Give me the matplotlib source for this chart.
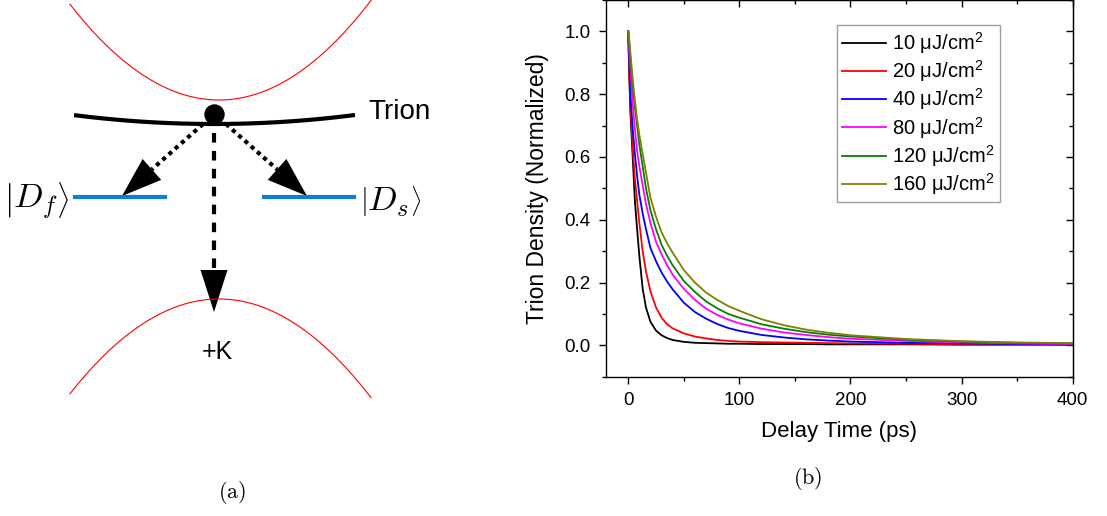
import numpy as np
import matplotlib
matplotlib.use("Agg")
import matplotlib.pyplot as plt
from matplotlib.patches import Polygon, Circle
from matplotlib.ticker import MultipleLocator

plt.rcParams["font.family"] = ["Liberation Sans", "DejaVu Sans"]
plt.rcParams["mathtext.fontset"] = "custom"
plt.rcParams["mathtext.rm"] = "Liberation Sans"
plt.rcParams["mathtext.it"] = "Liberation Sans:italic"

# delay time (ps) and normalized trion density
delay = [0, 1, 2, 4, 6, 8, 10, 13, 16, 20, 25, 30, 35, 40, 50, 60, 70, 80, 90,
         100, 120, 140, 160, 180, 200, 250, 300, 350, 400]
n_10 = [1.0, 0.85, 0.74, 0.60, 0.46, 0.37, 0.285, 0.18, 0.12, 0.075, 0.047, 0.032, 0.023, 0.017,
        0.011, 0.008, 0.007, 0.006, 0.005, 0.005, 0.004, 0.004, 0.004, 0.003, 0.003, 0.003, 0.002, 0.002, 0.002]
n_20 = [1.0, 0.87, 0.76, 0.63, 0.53, 0.46, 0.39, 0.30, 0.235, 0.172, 0.121, 0.088, 0.067, 0.054,
        0.038, 0.028, 0.022, 0.017, 0.014, 0.012, 0.010, 0.009, 0.008, 0.007, 0.006, 0.005, 0.004, 0.003, 0.002]
n_40 = [1.0, 0.90, 0.80, 0.69, 0.61, 0.54, 0.48, 0.42, 0.37, 0.31, 0.268, 0.232, 0.203, 0.178,
        0.136, 0.106, 0.085, 0.068, 0.055, 0.046, 0.033, 0.025, 0.019, 0.015, 0.012, 0.008, 0.006, 0.004, 0.003]
n_80 = [1.0, 0.94, 0.88, 0.77, 0.69, 0.62, 0.57, 0.51, 0.45, 0.39, 0.33, 0.29, 0.255, 0.225,
        0.18, 0.145, 0.117, 0.097, 0.082, 0.070, 0.053, 0.041, 0.033, 0.026, 0.021, 0.014, 0.009, 0.006, 0.004]
n_120 = [1.0, 0.96, 0.91, 0.83, 0.76, 0.70, 0.64, 0.57, 0.50, 0.43, 0.37, 0.32, 0.285, 0.255,
         0.205, 0.17, 0.14, 0.118, 0.10, 0.088, 0.067, 0.053, 0.042, 0.034, 0.028, 0.018, 0.012, 0.008, 0.006]
n_160 = [1.0, 0.97, 0.93, 0.85, 0.78, 0.72, 0.67, 0.61, 0.55, 0.47, 0.41, 0.36, 0.325, 0.295,
         0.24, 0.20, 0.168, 0.145, 0.125, 0.11, 0.083, 0.064, 0.05, 0.04, 0.032, 0.02, 0.013, 0.009, 0.007]

fluences = ["10", "20", "40", "80", "120", "160"]
series = [n_10, n_20, n_40, n_80, n_120, n_160]
colors = ["#000000", "#ff0000", "#0000ff", "#ff00ff", "#008000", "#808000"]

fig = plt.figure(figsize=(11.07, 5.16), dpi=100)

# ---- panel (a): schematic, drawn in pixel coordinates ----
ov = fig.add_axes([0, 0, 1, 1], zorder=0)
ov.set_xlim(0, 1107)
ov.set_ylim(516, 0)
ov.axis("off")

xb = np.linspace(70, 371, 200)
ov.plot(xb, 100 - 97 * ((xb - 219) / 150) ** 2, color="red", lw=0.8)
ov.plot(xb, 299 + 96 * ((xb - 219) / 150) ** 2, color="red", lw=0.8)

xt = np.linspace(74, 355, 200)
ov.plot(xt, 124 - 9 * ((xt - 214) / 141) ** 2, color="black", lw=3, solid_capstyle="butt")
ov.add_patch(Circle((214.5, 114.5), 9.5, color="black", zorder=5))

ov.plot([73, 167], [197, 197], color="#0a80d0", lw=3, solid_capstyle="butt")
ov.plot([262, 356], [197, 197], color="#0a80d0", lw=3, solid_capstyle="butt")


def arrow(tail, tip, style, hl, hw):
    tail = np.array(tail, float)
    tip = np.array(tip, float)
    d = (tip - tail) / np.hypot(*(tip - tail))
    nrm = np.array([-d[1], d[0]])
    base = tip - d * hl
    ov.plot([tail[0], base[0]], [tail[1], base[1]], color="black", lw=3,
            linestyle=style, dash_capstyle="butt")
    ov.add_patch(Polygon([tip, base + nrm * hw / 2, base - nrm * hw / 2],
                         closed=True, color="black", lw=0))


arrow((203, 124), (122, 196), (0, (1, 1)), 40, 28)
arrow((226, 124), (307, 196), (0, (1, 1)), 40, 28)
arrow((214, 133), (214, 312), (0, (2.3, 2.0)), 42, 27)

ov.text(368, 112, "Trion", fontsize=20, va="center", ha="left")
ov.text(217, 352, "+K", fontsize=18, va="center", ha="center")
ov.text(36, 201, r"$\left|D_f\right\rangle$", fontsize=25, va="center", ha="center",
        math_fontfamily="cm")
ov.text(391, 201, r"$\left|D_s\right\rangle$", fontsize=25, va="center", ha="center",
        math_fontfamily="cm")
ov.text(232, 493, r"$\mathrm{(a)}$", fontsize=16, va="center", ha="center", math_fontfamily="cm")
ov.text(808, 478, r"$\mathrm{(b)}$", fontsize=16, va="center", ha="center", math_fontfamily="cm")

# ---- panel (b): decay curves ----
ax = fig.add_axes([606 / 1107, 1 - 376.7 / 516, 466.7 / 1107, 376.7 / 516], zorder=1)
for f, vals, c in zip(fluences, series, colors):
    ax.plot(delay, vals, color=c, lw=1.3, label=f + " μJ/cm$^2$")

ax.set_xlim(-20, 400)
ax.set_ylim(-0.1, 1.1)
ax.xaxis.set_major_locator(MultipleLocator(100))
ax.xaxis.set_minor_locator(MultipleLocator(50))
ax.yaxis.set_major_locator(MultipleLocator(0.2))
ax.yaxis.set_minor_locator(MultipleLocator(0.1))
ax.yaxis.set_major_formatter(matplotlib.ticker.FormatStrFormatter("%.1f"))
ax.tick_params(which="both", direction="out", width=1, labelsize=13.5, pad=6)
ax.tick_params(which="major", length=5)
ax.tick_params(which="minor", length=3)
for s in ax.spines.values():
    s.set_linewidth(1)

sx = ax.secondary_xaxis("top")
sx.xaxis.set_major_locator(MultipleLocator(100))
sx.xaxis.set_minor_locator(MultipleLocator(50))
sx.tick_params(which="both", direction="in", width=1, labeltop=False)
sx.tick_params(which="major", length=5)
sx.tick_params(which="minor", length=3)
sy = ax.secondary_yaxis("right")
sy.yaxis.set_major_locator(MultipleLocator(0.2))
sy.yaxis.set_minor_locator(MultipleLocator(0.1))
sy.tick_params(which="both", direction="in", width=1, labelright=False)
sy.tick_params(which="major", length=5)
sy.tick_params(which="minor", length=3)

ax.set_xlabel("Delay Time (ps)", fontsize=16, labelpad=9)
ax.set_ylabel("Trion Density (Normalized)", fontsize=16.5, labelpad=11)

leg = ax.legend(loc="upper right", bbox_to_anchor=(0.844, 0.934), borderaxespad=0,
                fontsize=14.5, frameon=True, fancybox=False, edgecolor="#888888",
                handlelength=2.2, handletextpad=0.3, borderpad=0.25, labelspacing=0.12)
leg.get_frame().set_linewidth(1)

fig.savefig("out.png", dpi=100)
